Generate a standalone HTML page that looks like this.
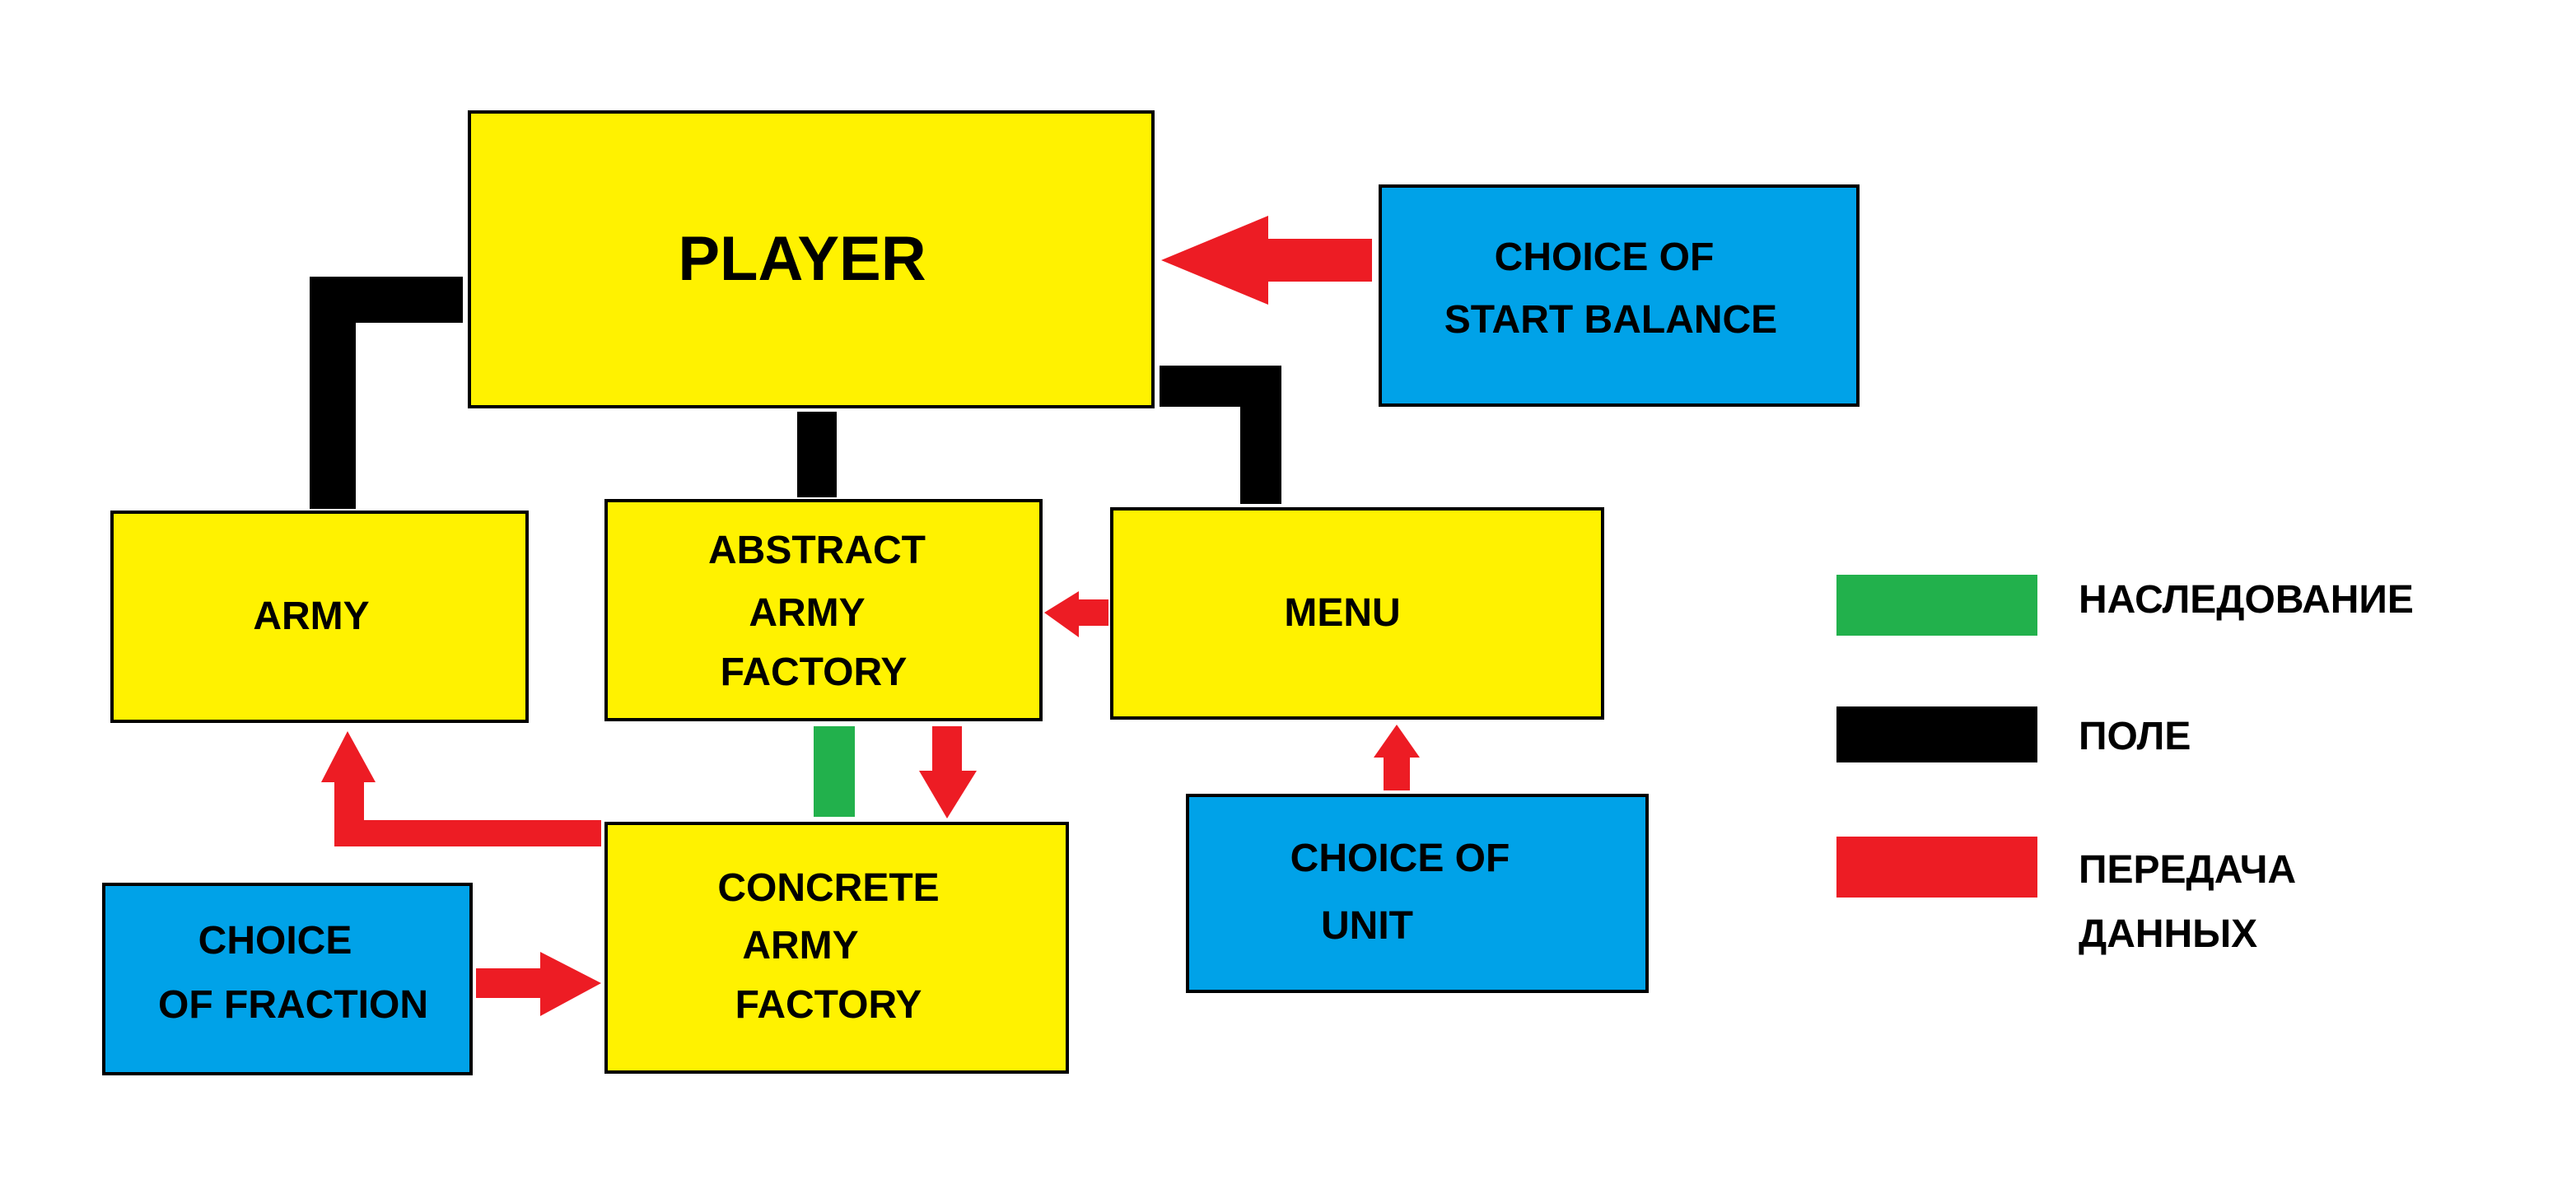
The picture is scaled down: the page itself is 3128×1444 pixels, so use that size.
<!DOCTYPE html>
<html><head><meta charset="utf-8"><style>
html,body{margin:0;padding:0;background:#fff;}
svg{display:block;}
text{font-family:"Liberation Sans","DejaVu Sans",sans-serif;font-weight:bold;fill:#000;text-anchor:middle;}
</style></head><body>
<svg width="3128" height="1444" viewBox="0 0 1564 722" xmlns="http://www.w3.org/2000/svg">
<rect width="1564" height="722" fill="#fff"/>
<g stroke="#000" stroke-width="2">
<rect x="285" y="68" width="415" height="179" fill="#fff200"/>
<rect x="838" y="113" width="290" height="133" fill="#00a2e8"/>
<rect x="68" y="311" width="252" height="127" fill="#fff200"/>
<rect x="368" y="304" width="264" height="133" fill="#fff200"/>
<rect x="675" y="309" width="298" height="127" fill="#fff200"/>
<rect x="368" y="500" width="280" height="151" fill="#fff200"/>
<rect x="63" y="537" width="223" height="115" fill="#00a2e8"/>
<rect x="721" y="483" width="279" height="119" fill="#00a2e8"/>
</g>
<rect x="188" y="168" width="28" height="141" fill="#000"/>
<rect x="188" y="168" width="93" height="28" fill="#000"/>
<rect x="484" y="250" width="24" height="52" fill="#000"/>
<rect x="704" y="222" width="74" height="25" fill="#000"/>
<rect x="753" y="222" width="25" height="84" fill="#000"/>
<rect x="494" y="441" width="25" height="55" fill="#22b14c"/>
<g fill="#ed1c24">
<rect x="768" y="145" width="65" height="26"/>
<polygon points="705,158 770,131 770,185"/>
<rect x="655" y="364" width="18" height="16"/>
<polygon points="634,372 655,359 655,387"/>
<rect x="566" y="441" width="18" height="28"/>
<polygon points="558,468 593,468 575,497"/>
<rect x="203" y="498" width="162" height="16"/>
<rect x="203" y="474" width="18" height="40"/>
<polygon points="195,475 228,475 211,444"/>
<rect x="289" y="588" width="40" height="18"/>
<polygon points="328,578 328,617 365,597"/>
<rect x="840" y="459" width="16" height="21"/>
<polygon points="834,460 862,460 848,440"/>
</g>
<rect x="1115" y="349" width="122" height="37" fill="#22b14c"/>
<rect x="1115" y="429" width="122" height="34" fill="#000"/>
<rect x="1115" y="508" width="122" height="37" fill="#ed1c24"/>
<g font-size="24">
<text x="1262" y="372" style="text-anchor:start">НАСЛЕДОВАНИЕ</text>
<text x="1262" y="455" style="text-anchor:start">ПОЛЕ</text>
<text x="1262" y="536" style="text-anchor:start">ПЕРЕДАЧА</text>
<text x="1262" y="575" style="text-anchor:start">ДАННЫХ</text>
</g>
<g font-size="24">
<text x="487" y="170" font-size="38">PLAYER</text>
<text x="974" y="164">CHOICE OF</text>
<text x="978" y="202">START BALANCE</text>
<text x="189" y="382">ARMY</text>
<text x="496" y="342">ABSTRACT</text>
<text x="490" y="380">ARMY</text>
<text x="494" y="416">FACTORY</text>
<text x="815" y="380">MENU</text>
<text x="503" y="547">CONCRETE</text>
<text x="486" y="582">ARMY</text>
<text x="503" y="618">FACTORY</text>
<text x="167" y="579">CHOICE</text>
<text x="178" y="618">OF FRACTION</text>
<text x="850" y="529">CHOICE OF</text>
<text x="830" y="570">UNIT</text>
</g>
</svg>
</body></html>
